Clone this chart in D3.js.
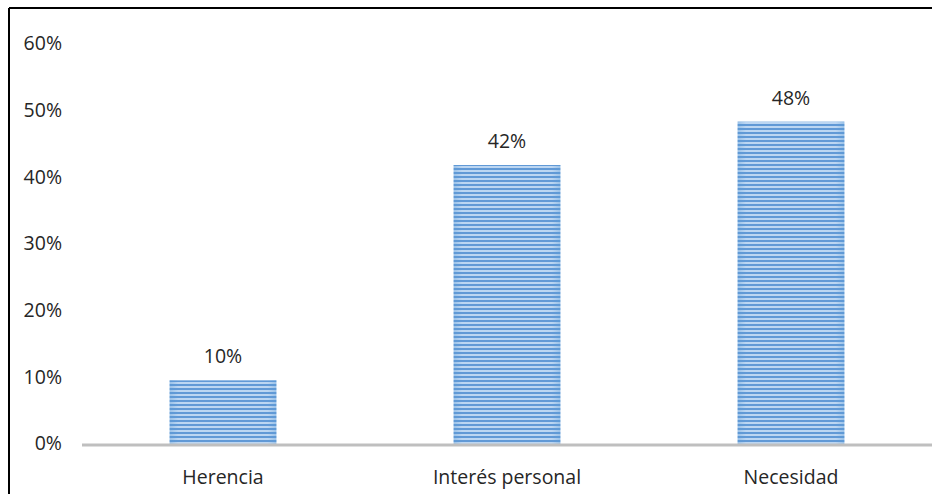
<!DOCTYPE html>
<html>
<head>
<meta charset="utf-8">
<script src="https://cdn.jsdelivr.net/npm/d3@7"></script>
<style>
  body { margin: 0; background: #fff; }
  text { font-family: "Open Sans", "Liberation Sans", sans-serif; fill: #262626; }
</style>
</head>
<body>
<div id="viz"></div>
<script>
// data
const categories = ["Herencia", "Interés personal", "Necesidad"];
const values = [0.097, 0.42, 0.485];
const valueLabels = ["10%", "42%", "48%"];
const tickValues = [0, 0.1, 0.2, 0.3, 0.4, 0.5, 0.6];

const width = 932, height = 494;

const svg = d3.select("#viz")
  .append("svg")
  .attr("width", width)
  .attr("height", height);

// stripe pattern for the bars
const defs = svg.append("defs");
const pat = defs.append("pattern")
  .attr("id", "stripes")
  .attr("patternUnits", "userSpaceOnUse")
  .attr("width", 8)
  .attr("height", 4);
pat.append("rect").attr("width", 8).attr("height", 4).attr("fill", "#bcd6f2");
pat.append("rect").attr("y", 0).attr("width", 8).attr("height", 2).attr("fill", "#6199d6");

const grad = defs.append("linearGradient").attr("id", "edge");
grad.append("stop").attr("offset", "0%").attr("stop-color", "#5b9bd5").attr("stop-opacity", 0.35);
grad.append("stop").attr("offset", "8%").attr("stop-color", "#5b9bd5").attr("stop-opacity", 0);
grad.append("stop").attr("offset", "92%").attr("stop-color", "#5b9bd5").attr("stop-opacity", 0);
grad.append("stop").attr("offset", "100%").attr("stop-color", "#5b9bd5").attr("stop-opacity", 0.35);

// frame (only top and left edges visible in the crop)
svg.append("line").attr("x1", 9).attr("x2", width).attr("y1", 8).attr("y2", 8)
  .attr("stroke", "#000").attr("stroke-width", 2);
svg.append("line").attr("x1", 9).attr("x2", 9).attr("y1", 8).attr("y2", height)
  .attr("stroke", "#000").attr("stroke-width", 2);

const x = d3.scaleBand()
  .domain(categories)
  .range([81, 933])
  .paddingInner(0.624)
  .paddingOuter(0.312);

const y = d3.scaleLinear()
  .domain([0, 0.6])
  .range([445, 45]);

// y tick labels (no axis line in the original)
svg.append("g")
  .selectAll("text")
  .data(tickValues)
  .join("text")
  .attr("x", 62)
  .attr("y", d => y(d))
  .attr("text-anchor", "end")
  .attr("dominant-baseline", "middle")
  .attr("font-size", 19.5)
  .text(d => d3.format(".0%")(d));

// bars
const bars = svg.append("g")
  .selectAll("g")
  .data(values)
  .join("g");

bars.append("rect")
  .attr("x", (d, i) => x(categories[i]))
  .attr("y", d => y(d))
  .attr("width", x.bandwidth())
  .attr("height", d => y(0) - y(d))
  .attr("fill", "url(#stripes)");

bars.append("rect")
  .attr("x", (d, i) => x(categories[i]))
  .attr("y", d => y(d))
  .attr("width", x.bandwidth())
  .attr("height", d => y(0) - y(d))
  .attr("fill", "url(#edge)");

// value labels
svg.append("g")
  .selectAll("text")
  .data(values)
  .join("text")
  .attr("x", (d, i) => x(categories[i]) + x.bandwidth() / 2)
  .attr("y", d => y(d) - 17)
  .attr("text-anchor", "middle")
  .attr("font-size", 19.5)
  .text((d, i) => valueLabels[i]);

// x axis baseline
svg.append("line")
  .attr("x1", 82).attr("x2", width)
  .attr("y1", y(0)).attr("y2", y(0))
  .attr("stroke", "#bfbfbf").attr("stroke-width", 3);

// category labels
svg.append("g")
  .selectAll("text")
  .data(categories)
  .join("text")
  .attr("x", d => x(d) + x.bandwidth() / 2)
  .attr("y", 484)
  .attr("text-anchor", "middle")
  .attr("font-size", 19.5)
  .text(d => d);
</script>
</body>
</html>
